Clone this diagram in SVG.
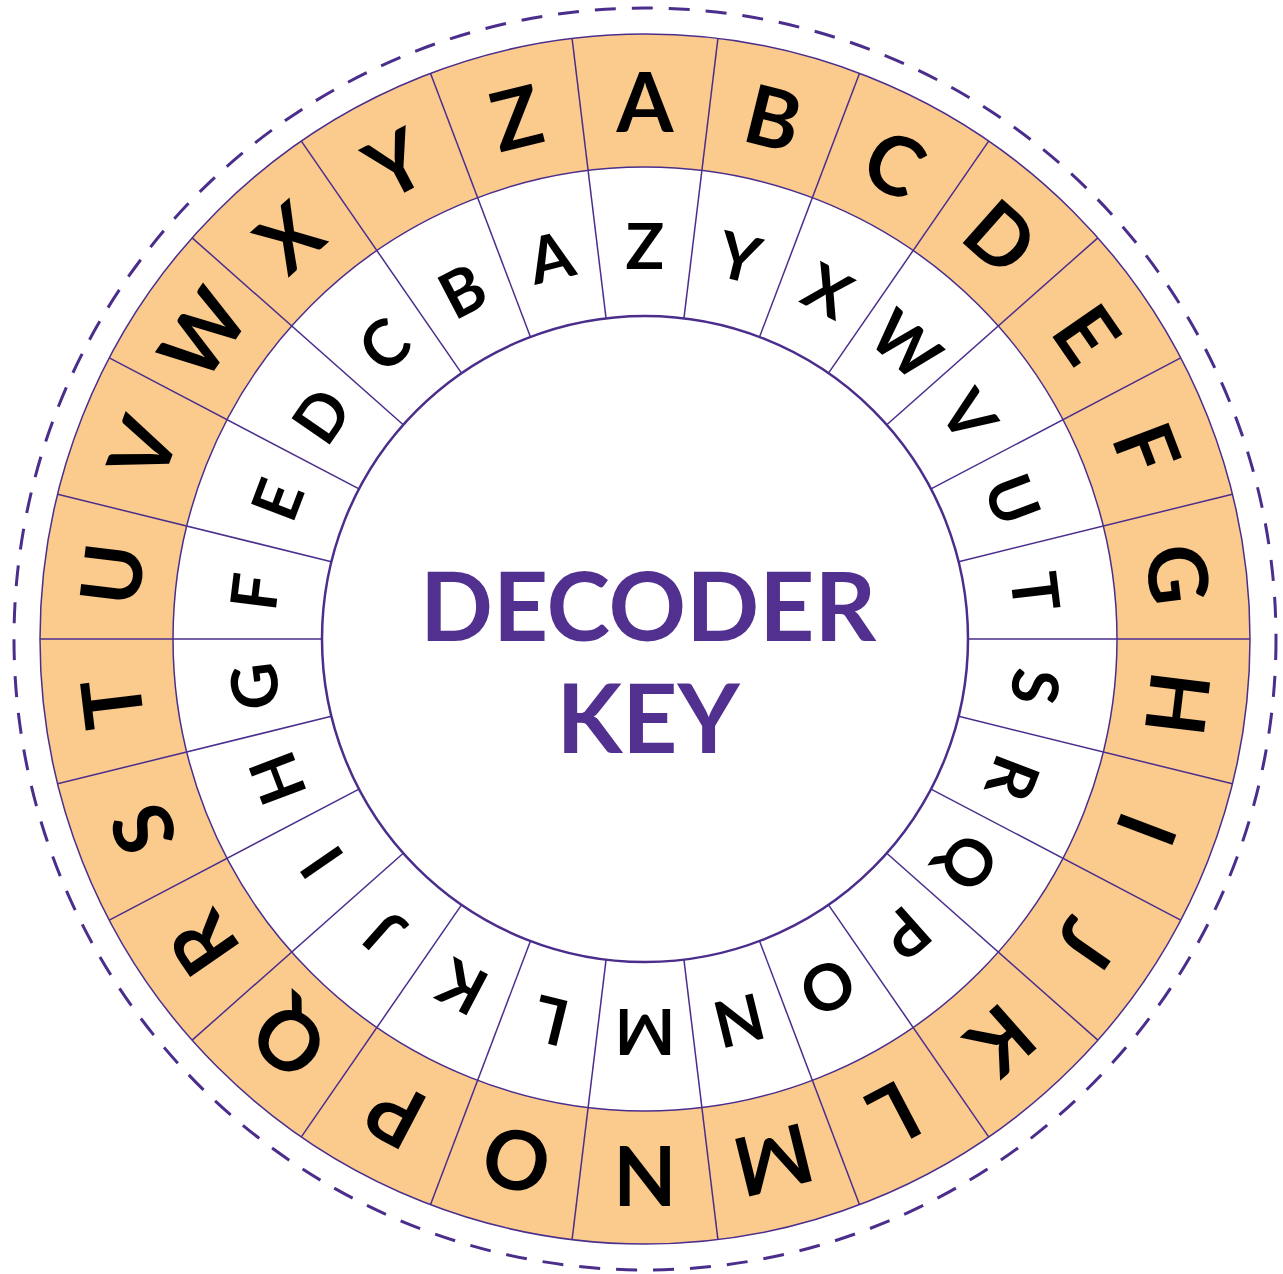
<svg xmlns="http://www.w3.org/2000/svg" width="1283" height="1274" viewBox="0 0 1283 1274">
<style>
.ol{font-family:Lato,"Liberation Sans",sans-serif;font-weight:700;font-size:82px;fill:#000;text-anchor:middle}
.il{font-family:Lato,"Liberation Sans",sans-serif;font-weight:700;font-size:64px;fill:#000;text-anchor:middle}
.ttl{font-family:Lato,"Liberation Sans",sans-serif;font-weight:700;font-size:96px;fill:#52308F;text-anchor:middle}
.sp{stroke:#4B2E8C;stroke-width:1.5}
</style>
<rect width="1283" height="1274" fill="#fff"/>
<circle cx="645" cy="639" r="631" fill="none" stroke="#4B2E8C" stroke-width="3" stroke-dasharray="21 16"/>
<g id="outer-ring">
<circle cx="645" cy="639" r="605" fill="#FBCB8E" stroke="#4B2E8C" stroke-width="1.5"/>
</g>
<g id="inner-ring">
<circle cx="645" cy="639" r="472" fill="#fff" stroke="#4B2E8C" stroke-width="1.5"/>
</g>
<g id="connectors" class="sp">
<line x1="645" y1="316" x2="645" y2="34" transform="rotate(6.923 645 639)"/>
<line x1="645" y1="316" x2="645" y2="34" transform="rotate(20.769 645 639)"/>
<line x1="645" y1="316" x2="645" y2="34" transform="rotate(34.615 645 639)"/>
<line x1="645" y1="316" x2="645" y2="34" transform="rotate(48.462 645 639)"/>
<line x1="645" y1="316" x2="645" y2="34" transform="rotate(62.308 645 639)"/>
<line x1="645" y1="316" x2="645" y2="34" transform="rotate(76.154 645 639)"/>
<line x1="645" y1="316" x2="645" y2="34" transform="rotate(90 645 639)"/>
<line x1="645" y1="316" x2="645" y2="34" transform="rotate(103.846 645 639)"/>
<line x1="645" y1="316" x2="645" y2="34" transform="rotate(117.692 645 639)"/>
<line x1="645" y1="316" x2="645" y2="34" transform="rotate(131.538 645 639)"/>
<line x1="645" y1="316" x2="645" y2="34" transform="rotate(145.385 645 639)"/>
<line x1="645" y1="316" x2="645" y2="34" transform="rotate(159.231 645 639)"/>
<line x1="645" y1="316" x2="645" y2="34" transform="rotate(173.077 645 639)"/>
<line x1="645" y1="316" x2="645" y2="34" transform="rotate(186.923 645 639)"/>
<line x1="645" y1="316" x2="645" y2="34" transform="rotate(200.769 645 639)"/>
<line x1="645" y1="316" x2="645" y2="34" transform="rotate(214.615 645 639)"/>
<line x1="645" y1="316" x2="645" y2="34" transform="rotate(228.462 645 639)"/>
<line x1="645" y1="316" x2="645" y2="34" transform="rotate(242.308 645 639)"/>
<line x1="645" y1="316" x2="645" y2="34" transform="rotate(256.154 645 639)"/>
<line x1="645" y1="316" x2="645" y2="34" transform="rotate(270 645 639)"/>
<line x1="645" y1="316" x2="645" y2="34" transform="rotate(283.846 645 639)"/>
<line x1="645" y1="316" x2="645" y2="34" transform="rotate(297.692 645 639)"/>
<line x1="645" y1="316" x2="645" y2="34" transform="rotate(311.538 645 639)"/>
<line x1="645" y1="316" x2="645" y2="34" transform="rotate(325.385 645 639)"/>
<line x1="645" y1="316" x2="645" y2="34" transform="rotate(339.231 645 639)"/>
<line x1="645" y1="316" x2="645" y2="34" transform="rotate(353.077 645 639)"/>
</g>
<g id="center">
<circle cx="645" cy="639" r="323" fill="#fff" stroke="#4B2E8C" stroke-width="2.5"/>
<text class="ttl" x="648" y="641">DECODER</text>
<text class="ttl" x="648" y="753">KEY</text>
</g>
<g id="outer-letters" class="ol">
<text x="645" y="132" transform="rotate(0 645 639)">A</text>
<text x="645" y="132" transform="rotate(13.846 645 639)">B</text>
<text x="645" y="132" transform="rotate(27.692 645 639)">C</text>
<text x="645" y="132" transform="rotate(41.538 645 639)">D</text>
<text x="645" y="132" transform="rotate(55.385 645 639)">E</text>
<text x="645" y="132" transform="rotate(69.231 645 639)">F</text>
<text x="645" y="132" transform="rotate(83.077 645 639)">G</text>
<text x="645" y="132" transform="rotate(96.923 645 639)">H</text>
<text x="645" y="132" transform="rotate(110.769 645 639)">I</text>
<text x="645" y="132" transform="rotate(124.615 645 639)">J</text>
<text x="645" y="132" transform="rotate(138.462 645 639)">K</text>
<text x="645" y="132" transform="rotate(152.308 645 639)">L</text>
<text x="645" y="132" transform="rotate(166.154 645 639)">M</text>
<text x="645" y="132" transform="rotate(180 645 639)">N</text>
<text x="645" y="132" transform="rotate(193.846 645 639)">O</text>
<text x="645" y="132" transform="rotate(207.692 645 639)">P</text>
<text x="645" y="132" transform="rotate(221.538 645 639)">Q</text>
<text x="645" y="132" transform="rotate(235.385 645 639)">R</text>
<text x="645" y="132" transform="rotate(249.231 645 639)">S</text>
<text x="645" y="132" transform="rotate(263.077 645 639)">T</text>
<text x="645" y="132" transform="rotate(276.923 645 639)">U</text>
<text x="645" y="132" transform="rotate(290.769 645 639)">V</text>
<text x="645" y="132" transform="rotate(304.615 645 639)">W</text>
<text x="645" y="132" transform="rotate(318.462 645 639)">X</text>
<text x="645" y="132" transform="rotate(332.308 645 639)">Y</text>
<text x="645" y="132" transform="rotate(346.154 645 639)">Z</text>
</g>
<g id="inner-letters" class="il">
<text x="645" y="269" transform="rotate(0 645 639)">Z</text>
<text x="645" y="269" transform="rotate(13.846 645 639)">Y</text>
<text x="645" y="269" transform="rotate(27.692 645 639)">X</text>
<text x="645" y="269" transform="rotate(41.538 645 639)">W</text>
<text x="645" y="269" transform="rotate(55.385 645 639)">V</text>
<text x="645" y="269" transform="rotate(69.231 645 639)">U</text>
<text x="645" y="269" transform="rotate(83.077 645 639)">T</text>
<text x="645" y="269" transform="rotate(96.923 645 639)">S</text>
<text x="645" y="269" transform="rotate(110.769 645 639)">R</text>
<text x="645" y="269" transform="rotate(124.615 645 639)">Q</text>
<text x="645" y="269" transform="rotate(138.462 645 639)">P</text>
<text x="645" y="269" transform="rotate(152.308 645 639)">O</text>
<text x="645" y="269" transform="rotate(166.154 645 639)">N</text>
<text x="645" y="269" transform="rotate(180 645 639)">M</text>
<text x="645" y="269" transform="rotate(193.846 645 639)">L</text>
<text x="645" y="269" transform="rotate(207.692 645 639)">K</text>
<text x="645" y="269" transform="rotate(221.538 645 639)">J</text>
<text x="645" y="269" transform="rotate(235.385 645 639)">I</text>
<text x="645" y="269" transform="rotate(249.231 645 639)">H</text>
<text x="645" y="269" transform="rotate(263.077 645 639)">G</text>
<text x="645" y="269" transform="rotate(276.923 645 639)">F</text>
<text x="645" y="269" transform="rotate(290.769 645 639)">E</text>
<text x="645" y="269" transform="rotate(304.615 645 639)">D</text>
<text x="645" y="269" transform="rotate(318.462 645 639)">C</text>
<text x="645" y="269" transform="rotate(332.308 645 639)">B</text>
<text x="645" y="269" transform="rotate(346.154 645 639)">A</text>
</g>
</svg>
